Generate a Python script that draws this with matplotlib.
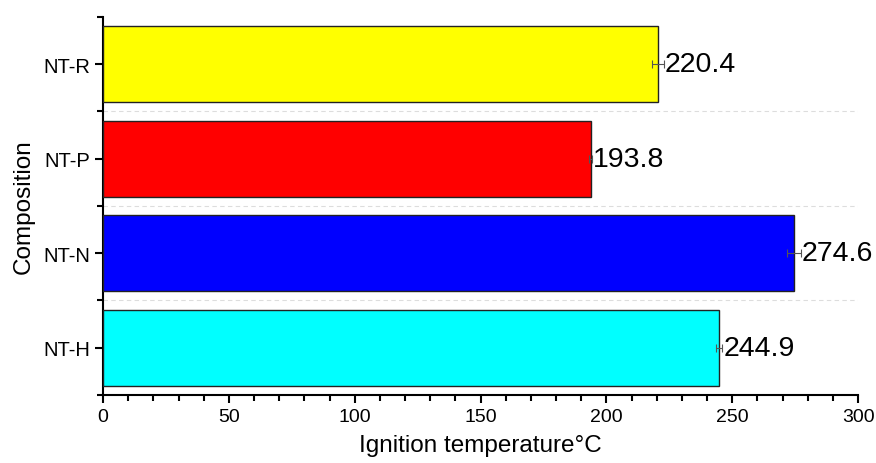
import numpy as np
import matplotlib.pyplot as plt
from matplotlib.ticker import MultipleLocator

plt.rcParams['font.family'] = ['Liberation Sans', 'DejaVu Sans']

# data, bottom to top
samples = ['NT-H', 'NT-N', 'NT-P', 'NT-R']
ignition = [244.9, 274.6, 193.8, 220.4]
errors = [1.2, 2.8, 0.6, 2.4]
colors = ['#00ffff', '#0000ff', '#ff0000', '#ffff00']

fig = plt.figure(figsize=(8.76, 4.64), dpi=100)
ax = fig.add_axes([0.1176, 0.1466, 0.8619, 0.8146])

ypos = np.arange(len(samples))
ax.barh(ypos, ignition, height=0.8, color=colors, edgecolor='#222222',
        linewidth=1.0, zorder=3)
ax.errorbar(ignition, ypos, xerr=errors, fmt='none', ecolor='#555555',
            elinewidth=0.8, capsize=3, capthick=0.8, zorder=4)

# value labels next to each bar
for y, v, e in zip(ypos, ignition, errors):
    ax.text(v + e + 0.3, y, '%.1f' % v, va='center', ha='left', fontsize=20.5)

# dashed separators between categories
for y in ypos[:-1] + 0.5:
    ax.axhline(y, color='#dddddd', linestyle=(0, (4, 3)), linewidth=0.8, zorder=1)

ax.set_xlim(0, 300)
ax.set_ylim(-0.5, len(samples) - 0.5)
ax.set_yticks(ypos)
ax.set_yticklabels(samples)
ax.yaxis.set_minor_locator(plt.FixedLocator(np.arange(-0.5, len(samples), 1.0)))
ax.xaxis.set_major_locator(MultipleLocator(50))
ax.xaxis.set_minor_locator(MultipleLocator(10))

ax.tick_params(axis='both', which='major', direction='out', length=6, width=1.5,
               labelsize=14)
ax.tick_params(axis='y', which='major', labelsize=14.5)
ax.tick_params(axis='both', which='minor', direction='out', length=4, width=1.5)

for side in ['top', 'right']:
    ax.spines[side].set_visible(False)
for side in ['left', 'bottom']:
    ax.spines[side].set_linewidth(1.5)

ax.set_xlabel('Ignition temperature°C', fontsize=17.5, labelpad=6)
ax.set_ylabel('Composition', fontsize=17.5, labelpad=6)

fig.savefig('out.png', dpi=100)
